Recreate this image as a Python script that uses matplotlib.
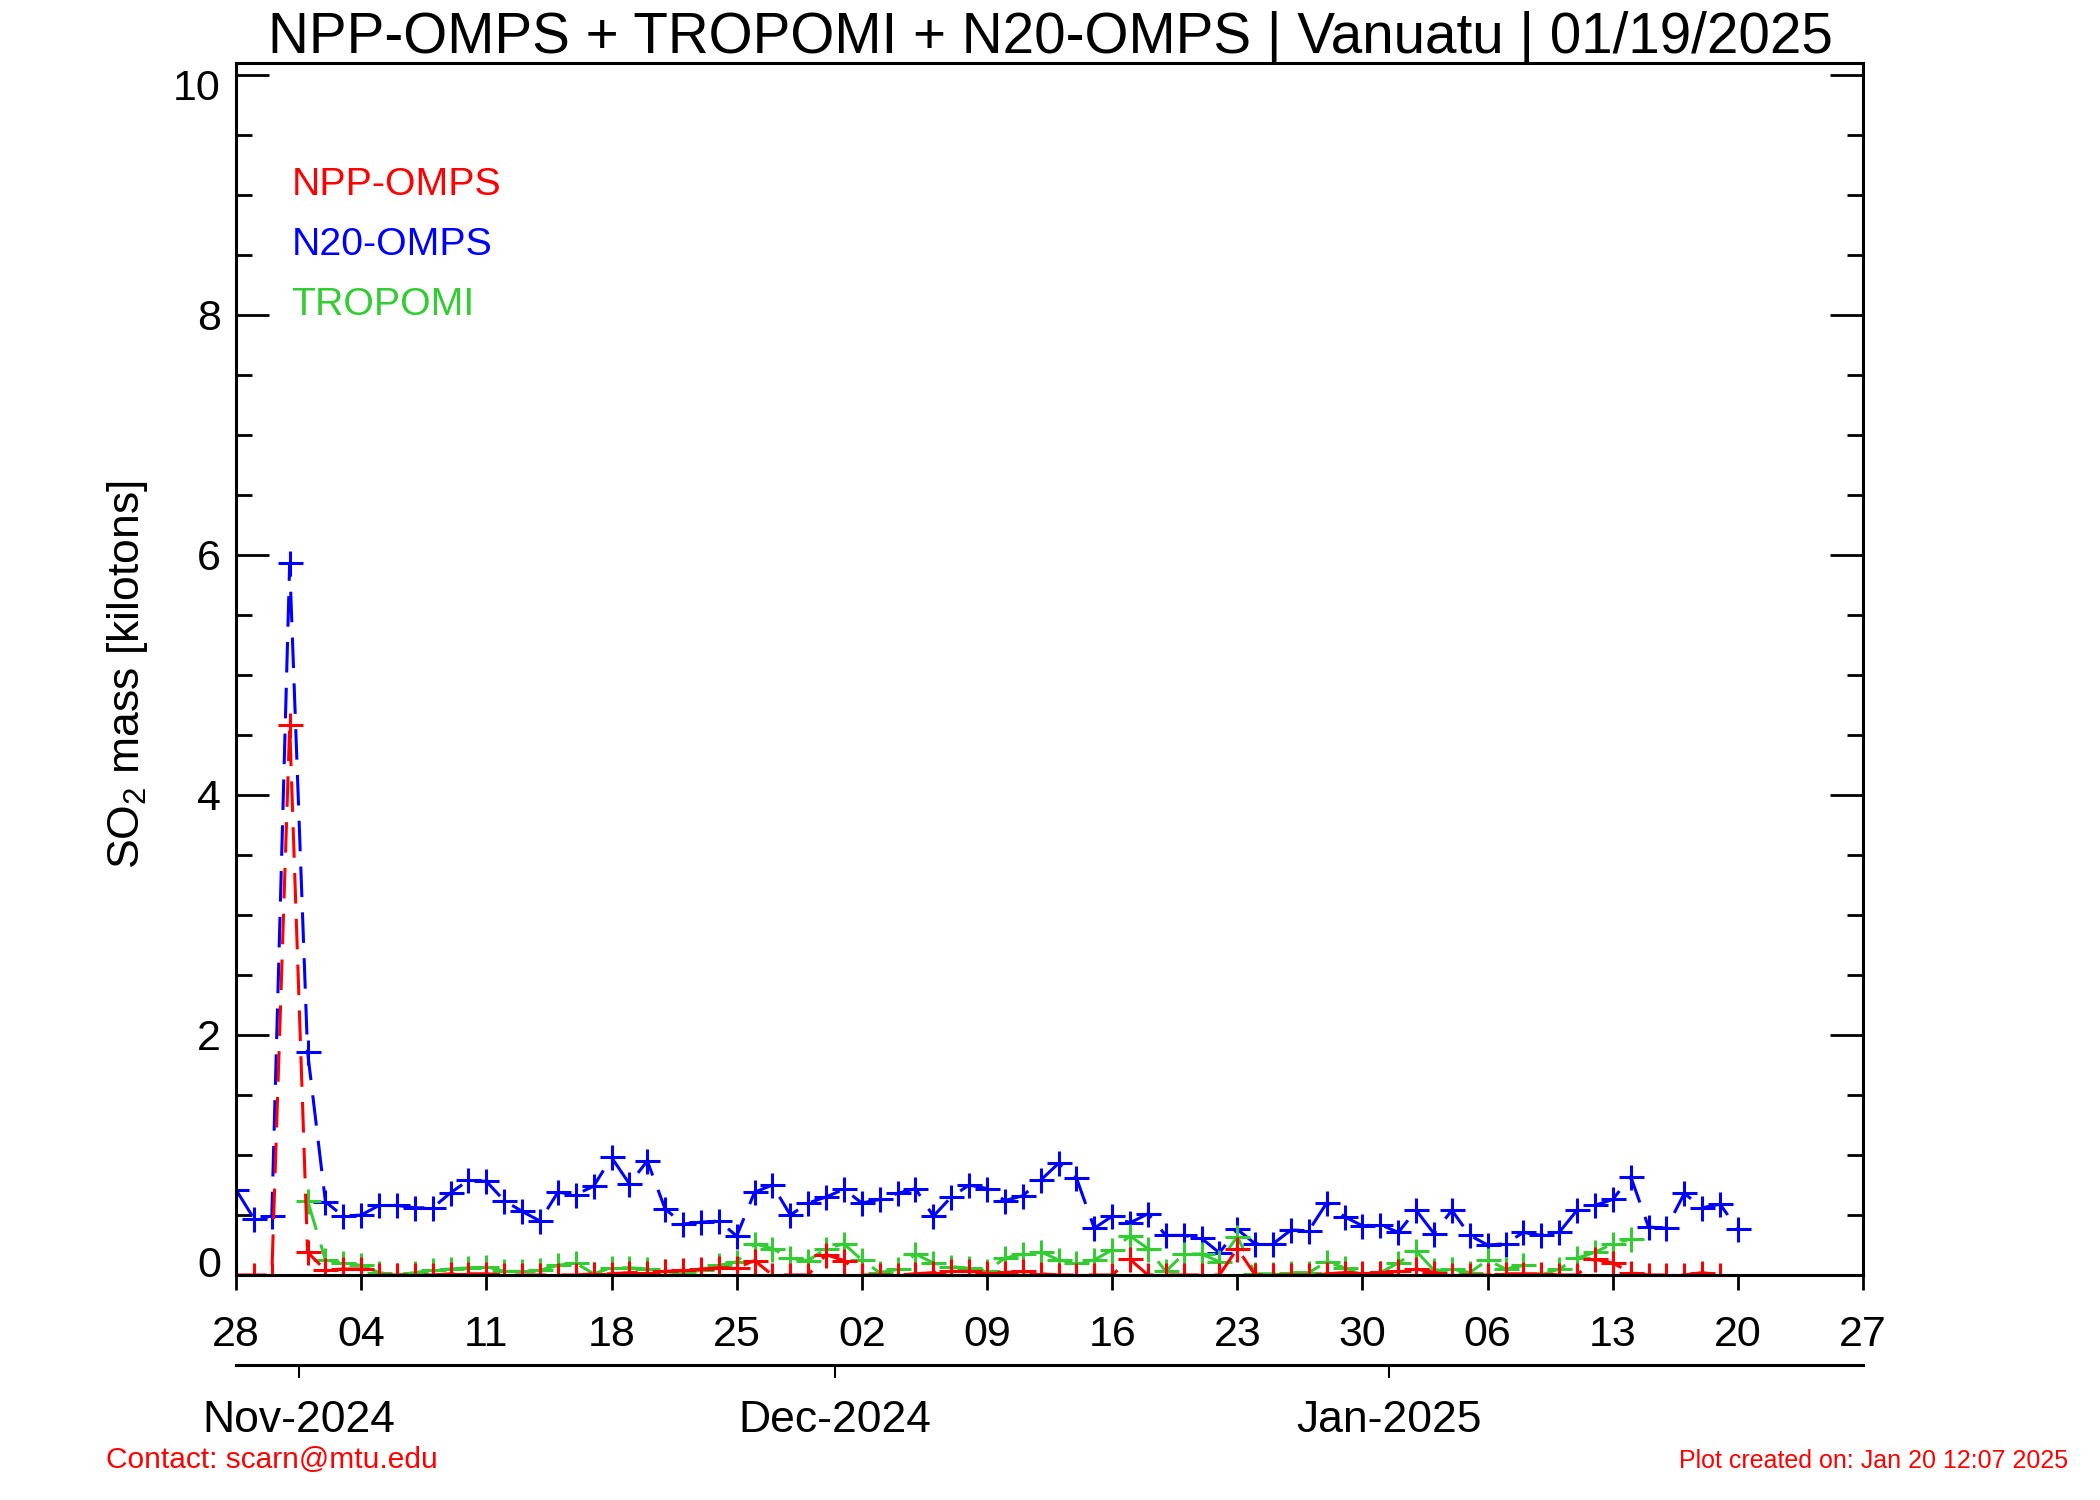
# SO2 mass time series for Vanuatu, three satellite instruments.

import numpy as np
import matplotlib
matplotlib.use('Agg')
import matplotlib.pyplot as plt
import matplotlib.dates as mdates
import matplotlib.transforms as mtransforms
from matplotlib.ticker import MultipleLocator, FuncFormatter

plt.rcParams['font.family'] = ['Liberation Sans', 'DejaVu Sans']
plt.rcParams['mathtext.default'] = 'regular'

# daily values [kilotons], first day of each series given separately
start_day = np.datetime64('2024-10-28')
end_day = np.datetime64('2025-01-27')

npp_first = 0
npp_omps = [0.0, 0.0, 0.0, 4.58, 0.19, 0.04, 0.05, 0.05, 0.0, 0.0,
            0.0, 0.0, 0.01, 0.01, 0.01, 0.0, 0.0, 0.0, 0.0, 0.0,
            0.01, 0.01, 0.02, 0.02, 0.03, 0.04, 0.05, 0.06, 0.06, 0.12,
            0.0, 0.0, 0.0, 0.17, 0.12, 0.0, 0.0, 0.0, 0.01, 0.02,
            0.03, 0.03, 0.02, 0.02, 0.03, 0.01, 0.0, 0.0, 0.0, 0.0,
            0.13, 0.0, 0.0, 0.0, 0.0, 0.0, 0.22, 0.0, 0.0, 0.0,
            0.0, 0.01, 0.02, 0.02, 0.02, 0.03, 0.05, 0.02, 0.0, 0.0,
            0.0, 0.01, 0.01, 0.01, 0.0, 0.0, 0.13, 0.10, 0.02, 0.0,
            0.0, 0.0, 0.02, 0.0]

n20_first = 0
n20_omps = [0.71, 0.47, 0.49, 5.93, 1.86, 0.61, 0.49, 0.50, 0.58, 0.58,
            0.56, 0.56, 0.685, 0.79, 0.78, 0.62, 0.53, 0.45, 0.69, 0.67,
            0.74, 0.98, 0.76, 0.95, 0.55, 0.425, 0.44, 0.45, 0.325, 0.69,
            0.75, 0.50, 0.60, 0.65, 0.715, 0.60, 0.63, 0.68, 0.72, 0.49,
            0.65, 0.75, 0.72, 0.62, 0.66, 0.79, 0.93, 0.81, 0.39, 0.49,
            0.435, 0.51, 0.33, 0.33, 0.305, 0.185, 0.38, 0.26, 0.26, 0.375,
            0.37, 0.60, 0.485, 0.41, 0.42, 0.355, 0.54, 0.345, 0.54, 0.33,
            0.25, 0.26, 0.355, 0.33, 0.355, 0.54, 0.58, 0.63, 0.82, 0.40,
            0.39, 0.68, 0.56, 0.59, 0.38]

tropomi_first = 4
tropomi = [0.62, 0.125, 0.10, 0.08, 0.02, 0.0, 0.02, 0.04, 0.05, 0.06,
           0.07, 0.03, 0.03, 0.04, 0.08, 0.10, 0.01, 0.06, 0.06, 0.05,
           0.03, 0.01, 0.04, 0.08, 0.11, 0.26, 0.22, 0.14, 0.12, 0.22,
           0.26, 0.125, 0.02, 0.047, 0.175, 0.10, 0.07, 0.056, 0.036, 0.14,
           0.175, 0.195, 0.125, 0.10, 0.125, 0.21, 0.325, 0.22, 0.03, 0.175,
           0.175, 0.11, 0.32, 0.01, 0.01, 0.02, 0.02, 0.11, 0.06, 0.0,
           0.02, 0.10, 0.20, 0.04, 0.05, 0.02, 0.125, 0.05, 0.08, 0.0,
           0.05, 0.14, 0.19, 0.26, 0.30]

series_names = ['NPP-OMPS', 'N20-OMPS', 'TROPOMI']
series_colors = ['#ff0000', '#0000ff', '#33cc33']

month_starts = ['2024-11-01', '2024-12-01', '2025-01-01']
month_labels = ['Nov-2024', 'Dec-2024', 'Jan-2025']

title = 'NPP-OMPS + TROPOMI + N20-OMPS | Vanuatu | 01/19/2025'

y_min, y_max = 0, 10.1
y_end_labels = [0, 10]


def day_axis(first, values):
    days = start_day + np.arange(first, first + len(values)).astype('timedelta64[D]')
    return mdates.date2num(days)


fig = plt.figure(figsize=(21, 15), dpi=100)
ax = fig.add_axes([0.1124, 0.15, 0.7748, 0.808])

dash = (0, (10, 5))
style = dict(marker='+', markersize=18, markeredgewidth=2.2, linewidth=2.2, linestyle=dash)
ax.plot(day_axis(n20_first, n20_omps), n20_omps, color=series_colors[1], **style)
ax.plot(day_axis(tropomi_first, tropomi), tropomi, color=series_colors[2], **style)
ax.plot(day_axis(npp_first, npp_omps), npp_omps, color=series_colors[0], **style)

ax.set_xlim(mdates.date2num(start_day), mdates.date2num(end_day))
ax.set_ylim(y_min, y_max)

for s in ax.spines.values():
    s.set_linewidth(2.2)

ax.set_xticks(mdates.date2num(np.arange(start_day, end_day + 1, 7)))
ax.xaxis.set_major_formatter(mdates.DateFormatter('%d'))
ax.tick_params(axis='x', direction='out', length=10.8, width=2, labelsize=31, pad=18)

ax.yaxis.set_major_locator(MultipleLocator(2))
ax.yaxis.set_minor_locator(MultipleLocator(0.5))
ax.yaxis.set_major_formatter(FuncFormatter(
    lambda v, pos: '' if round(v) in y_end_labels else '%d' % round(v)))
ax.tick_params(axis='y', which='major', direction='in', length=23.8, width=2,
               labelsize=31, pad=11, right=True)
ax.tick_params(axis='y', which='minor', direction='in', length=11.5, width=2, right=True)

# end labels are nudged inside the axis range, as in the original
ytrans = mtransforms.blended_transform_factory(ax.transAxes, ax.transData)
for v, dy in zip(y_end_labels, [10, -7]):
    off = mtransforms.ScaledTranslation(-11 / 72, dy / 72, fig.dpi_scale_trans)
    ax.text(0, v, '%d' % v, fontsize=31, ha='right', va='center_baseline',
            transform=ytrans + off, clip_on=False)

# month axis under the day labels
sec = ax.secondary_xaxis(-0.0743)
sec.spines['bottom'].set_linewidth(2.2)
sec.set_xticks(mdates.date2num(np.array(month_starts, dtype='datetime64[D]')) - 0.5)
sec.set_xticklabels(month_labels)
sec.tick_params(direction='out', length=9.4, width=1.5, labelsize=32, pad=16)

for i, (name, col) in enumerate(zip(series_names, series_colors)):
    ax.text(0.034, 0.891 - i * 0.0495, name, color=col, fontsize=28.3,
            transform=ax.transAxes, va='baseline')

fig.text(0.5, 1 - 53 / 1500, title, ha='center', va='baseline', fontsize=40.8)
fig.text(127 / 2100, 0.55, 'SO$_2$ mass [kilotons]', rotation=90,
         ha='center', va='center', fontsize=32)
fig.text(106 / 2100, 1 - 1468 / 1500, 'Contact: scarn@mtu.edu', color='red',
         fontsize=21.5, va='baseline')
fig.text(2068 / 2100, 1 - 1468 / 1500, 'Plot created on: Jan 20 12:07 2025',
         color='red', fontsize=18, ha='right', va='baseline')

fig.savefig('out.png', dpi=100)
